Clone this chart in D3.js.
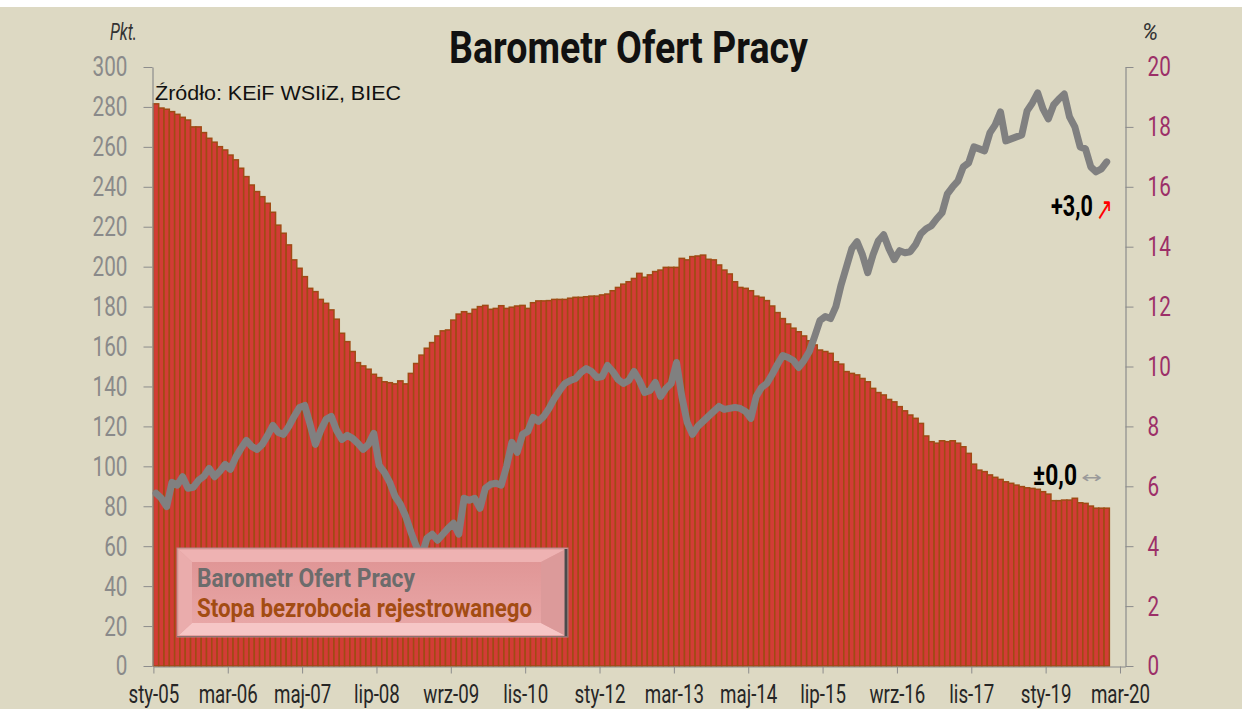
<!DOCTYPE html>
<html>
<head>
<meta charset="utf-8">
<script src="https://cdn.jsdelivr.net/npm/d3@7"></script>
<style>
  html, body { margin: 0; padding: 0; background: #ffffff; }
  svg { display: block; }
</style>
</head>
<body>
<script>
// ---------------- DATA ----------------
const startMonth = new Date(2005, 0, 1);
const axisMonthCount = 183; // sty-05 .. mar-20 (category axis length)
const tickLabels = ["sty-05","mar-06","maj-07","lip-08","wrz-09","lis-10","sty-12","mar-13","maj-14","lip-15","wrz-16","lis-17","sty-19","mar-20"];
const leftTicks = [0,20,40,60,80,100,120,140,160,180,200,220,240,260,280,300];
const rightTicks = [0,2,4,6,8,10,12,14,16,18,20];

// Stopa bezrobocia rejestrowanego (%), monthly Jan 2005 - Dec 2019 (right axis)
const unemployment = [
  18.77,18.63,18.59,18.51,18.42,18.32,18.23,18.0,18.0,17.81,17.62,17.49,
  17.34,17.23,17.06,16.9,16.62,16.34,16.06,15.84,15.67,15.45,15.15,14.72,
  14.45,14.06,13.56,13.28,13.0,12.61,12.5,12.24,12.11,11.89,11.58,11.11,
  10.83,10.5,10.13,10.02,9.91,9.74,9.63,9.49,
  9.46,9.42,9.52,9.42,9.77,10.1,10.38,10.61,10.8,11.02,11.19,11.22,11.55,11.75,11.83,11.77,
  11.91,12.0,12.04,11.91,11.94,12.03,11.94,11.98,12.02,12.04,11.94,12.13,12.19,12.19,12.2,12.24,
  12.24,12.24,12.28,12.31,12.31,12.33,12.35,12.35,12.39,12.42,12.53,12.64,12.75,12.83,
  12.94,13.11,12.98,13.06,13.17,13.22,13.31,13.31,13.31,13.61,13.56,13.67,13.69,13.72,13.58,
  13.56,13.39,13.22,13.09,12.83,12.64,12.61,12.53,12.35,12.31,12.2,12.02,11.8,11.6,11.42,
  11.28,11.16,11.02,10.86,10.72,10.55,10.5,10.44,10.16,10.08,9.83,9.77,9.72,9.6,9.49,
  9.27,9.13,9.05,8.9,8.82,8.66,8.52,8.38,8.27,8.1,7.68,7.49,7.44,7.52,7.49,
  7.52,7.44,7.32,7.1,6.74,6.54,6.49,6.38,6.3,6.23,6.15,6.1,6.04,5.99,5.95,
  5.93,5.9,5.82,5.74,5.52,5.52,5.54,5.54,5.6,5.45,5.43,5.34,5.27,5.27,5.27
];

// Barometr Ofert Pracy (pkt.), monthly Jan 2005 - Dec 2019 (left axis)
const barometr = [
  86.5,84,79.8,92,90.6,94.8,89,89.5,93,95,99,94.8,
  97.5,101,98.5,104.5,109,113,110,108.5,111,115.5,120.5,117,
  116,120,125,129.5,130.5,121,111,118,123.5,125,118,113.5,
  115.5,114,111.5,108.5,111,116.5,100.5,97,
  92,85,81,75,67,60,55,64,66,63,66,69,71.5,66,84,
  83,84,79,89,91,91.5,90.6,100,112,107,116,117.5,124.5,122.5,125,
  129,134,138,141.5,143,144,147,149,147.5,144.5,145,150.5,147.5,143.5,141.5,
  143,147.5,143,137,138,142,135,139,141.5,152,135,122,116,120,122.5,
  125,127.5,130,128.5,129,129.5,129,127.5,124,135,139.5,141.5,146,151,155.5,
  154.5,153,149.5,153,157.5,165,173,175,174,180,191,200,209,212.5,206,197,
  206,213,216,209,203.5,208,207,207.5,211,216.5,219,220.5,224,227,236.5,
  240,243,250,252,260,259,258,267,271,277.5,263,264,265,266,278,
  282,287,279,274,281,284,286.5,275,270,260,259,250,247.5,249,252.5
];

const months = d3.timeMonth.range(startMonth, d3.timeMonth.offset(startMonth, unemployment.length));

// ---------------- CHART ----------------
const W = 1242, H = 709;
const svg = d3.select("body").append("svg").attr("width", W).attr("height", H);

svg.append("rect").attr("x", 0).attr("y", 7).attr("width", W).attr("height", H - 7).attr("fill", "#ddd9c3");

const x = d3.scaleLinear().domain([0, axisMonthCount]).range([153.4, 1125.3]);
const yL = d3.scaleLinear().domain([0, 300]).range([666, 67]);
const yR = d3.scaleLinear().domain([0, 20]).range([666, 67]);

const FONT = "Roboto, 'DejaVu Sans', sans-serif";

// Bars (unemployment, right axis)
svg.append("g")
  .selectAll("rect")
  .data(unemployment)
  .join("rect")
  .attr("x", (d, i) => x(i))
  .attr("width", x(1) - x(0))
  .attr("y", d => yR(d))
  .attr("height", d => yR(0) - yR(d))
  .attr("fill", "#d23c36")
  .attr("stroke", "#9f4b14")
  .attr("stroke-width", 1.5);

// Axes
const axisColor = "#8c8c8c";

const gL = svg.append("g").attr("transform", "translate(152.5,0)")
  .call(d3.axisLeft(yL).tickValues(leftTicks).tickSize(9).tickSizeOuter(0).tickFormat(d3.format("d")));
gL.select(".domain").attr("stroke", axisColor).attr("stroke-width", 1.2);
gL.selectAll(".tick line").attr("stroke", axisColor);
gL.selectAll(".tick text")
  .attr("x", 0)
  .attr("transform", "translate(-25,0) scale(0.74,1)")
  .attr("fill", "#8a8a8a")
  .style("font-family", FONT)
  .style("font-size", "28px");

const gR = svg.append("g").attr("transform", "translate(1125.5,0)")
  .call(d3.axisRight(yR).tickValues(rightTicks).tickSize(8).tickSizeOuter(0).tickFormat(d3.format("d")));
gR.select(".domain").attr("stroke", axisColor).attr("stroke-width", 1.2);
gR.selectAll(".tick line").attr("stroke", axisColor);
gR.selectAll(".tick text")
  .attr("x", 0)
  .attr("transform", "translate(22,0) scale(0.74,1)")
  .attr("fill", "#9c2f68")
  .style("font-family", FONT)
  .style("font-size", "28px");

const gX = svg.append("g").attr("transform", "translate(0,666.5)")
  .call(d3.axisBottom(x)
    .tickValues(d3.range(0, axisMonthCount, 14))
    .tickSize(7).tickSizeOuter(0).tickPadding(11)
    .tickFormat((d, i) => tickLabels[i]));
gX.select(".domain").attr("stroke", axisColor).attr("stroke-width", 1.2);
gX.selectAll(".tick line").attr("stroke", axisColor);
gX.selectAll(".tick text")
  .attr("transform", "scale(0.72,1)")
  .attr("fill", "#262626")
  .style("font-family", FONT)
  .style("font-size", "26px");

// Line (barometr, left axis)
const line = d3.line()
  .x((d, i) => x(i + 0.5))
  .y(d => yL(d))
  .curve(d3.curveLinear);
svg.append("path")
  .datum(barometr)
  .attr("d", line)
  .attr("fill", "none")
  .attr("stroke", "#808080")
  .attr("stroke-width", 7)
  .attr("stroke-linejoin", "round")
  .attr("stroke-linecap", "round");

// Title and texts
svg.append("text")
  .attr("x", 449).attr("y", 63)
  .attr("textLength", 359).attr("lengthAdjust", "spacingAndGlyphs")
  .style("font-family", FONT).style("font-weight", "bold").style("font-size", "44px")
  .attr("fill", "#111")
  .text("Barometr Ofert Pracy");

svg.append("text")
  .attr("x", 110).attr("y", 40)
  .attr("textLength", 27).attr("lengthAdjust", "spacingAndGlyphs")
  .style("font-family", FONT).style("font-style", "italic").style("font-size", "23px")
  .attr("fill", "#333")
  .text("Pkt.");

svg.append("text")
  .attr("x", 1142).attr("y", 40)
  .attr("textLength", 16).attr("lengthAdjust", "spacingAndGlyphs")
  .style("font-family", FONT).style("font-style", "italic").style("font-size", "23px")
  .attr("fill", "#333")
  .text("%");

svg.append("text")
  .attr("x", 155).attr("y", 100)
  .attr("textLength", 246).attr("lengthAdjust", "spacingAndGlyphs")
  .style("font-family", "'Liberation Sans', Arial, sans-serif").style("font-size", "21px")
  .attr("fill", "#111")
  .text("Źródło: KEiF WSIiZ, BIEC");

// Annotations (horizontally condensed via transform)
svg.append("text")
  .attr("transform", "translate(1051,216) scale(0.72,1)")
  .style("font-family", FONT).style("font-weight", "bold").style("font-size", "30px")
  .attr("fill", "#000")
  .text("+3,0");
svg.append("text")
  .attr("transform", "translate(1096,220) scale(0.62,1)")
  .style("font-family", "'DejaVu Sans', sans-serif").style("font-size", "32px")
  .attr("fill", "#ff0000")
  .text("↗");

svg.append("text")
  .attr("transform", "translate(1033,485) scale(0.76,1)")
  .style("font-family", FONT).style("font-weight", "bold").style("font-size", "30px")
  .attr("fill", "#000")
  .text("±0,0");
svg.append("text")
  .attr("transform", "translate(1081,483) scale(1.55,1)")
  .style("font-family", "'DejaVu Sans', sans-serif").style("font-size", "16px")
  .attr("fill", "#9a9a9a")
  .text("↔");

// Legend box (bevelled)
const lg = svg.append("g");
const L = {x0: 177, y0: 548, x1: 568, y1: 637, fx0: 192, fy0: 562, fx1: 541, fy1: 623};
lg.append("rect").attr("x", L.x0).attr("y", L.y0).attr("width", L.x1 - L.x0).attr("height", L.y1 - L.y0)
  .attr("fill", "#e6a3a3").attr("stroke", "#b08585").attr("stroke-width", 1);
const poly = (pts, fill) => lg.append("polygon").attr("points", pts.map(p => p.join(",")).join(" ")).attr("fill", fill);
poly([[L.x0+2,L.y0+2],[L.x1-4,L.y0+2],[L.fx1,L.fy0],[L.fx0,L.fy0]], "#eeb2b2");
poly([[L.x0+2,L.y1-2],[L.x1-4,L.y1-2],[L.fx1,L.fy1],[L.fx0,L.fy1]], "#f6c6c6");
poly([[L.x0+2,L.y0+2],[L.fx0,L.fy0],[L.fx0,L.fy1],[L.x0+2,L.y1-2]], "#eaacac");
poly([[L.x1-4,L.y0+2],[L.fx1,L.fy0],[L.fx1,L.fy1],[L.x1-4,L.y1-2]], "#dc9a9a");
const grad = svg.append("defs").append("linearGradient").attr("id", "lgface").attr("x1", 0).attr("y1", 0).attr("x2", 0).attr("y2", 1);
grad.append("stop").attr("offset", "0%").attr("stop-color", "#e09696");
grad.append("stop").attr("offset", "100%").attr("stop-color", "#e8a6a6");
lg.append("rect").attr("x", L.fx0).attr("y", L.fy0).attr("width", L.fx1 - L.fx0).attr("height", L.fy1 - L.fy0).attr("fill", "url(#lgface)");
lg.append("line").attr("x1", L.x1 - 2).attr("y1", L.y0 + 1).attr("x2", L.x1 - 2).attr("y2", L.y1).attr("stroke", "#4a4a4a").attr("stroke-width", 3);
lg.append("line").attr("x1", L.x0).attr("y1", L.y1 - 0.5).attr("x2", L.x1).attr("y2", L.y1 - 0.5).attr("stroke", "#8a7070").attr("stroke-width", 1);

lg.append("text")
  .attr("x", 197).attr("y", 587)
  .attr("textLength", 218).attr("lengthAdjust", "spacingAndGlyphs")
  .style("font-family", FONT).style("font-weight", "bold").style("font-size", "25px")
  .attr("fill", "#6c6c6c")
  .text("Barometr Ofert Pracy");
lg.append("text")
  .attr("x", 197).attr("y", 617)
  .attr("textLength", 335).attr("lengthAdjust", "spacingAndGlyphs")
  .style("font-family", FONT).style("font-weight", "bold").style("font-size", "25px")
  .attr("fill", "#a34c12")
  .text("Stopa bezrobocia rejestrowanego");
</script>
</body>
</html>
